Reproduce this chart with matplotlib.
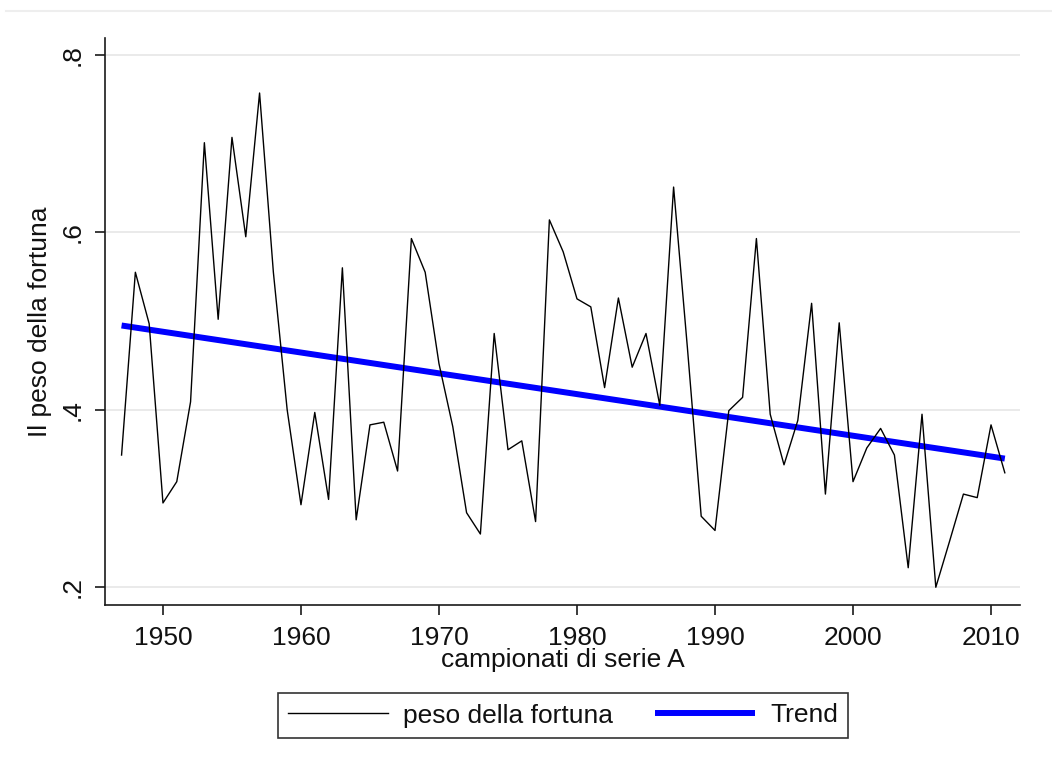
"""Peso della fortuna nei campionati di serie A, con retta di tendenza."""

from matplotlib import pyplot as plt
from matplotlib.lines import Line2D
import numpy as np

plt.rcParams["font.family"] = ["Liberation Sans", "DejaVu Sans"]

# values
years = np.arange(1947, 2012)
fortuna = [
    0.349, 0.555, 0.497, 0.295, 0.319, 0.409, 0.701, 0.502, 0.707, 0.595,  # 1947-1956
    0.757, 0.555, 0.400, 0.293, 0.397, 0.299, 0.560, 0.276, 0.383, 0.386,  # 1957-1966
    0.331, 0.593, 0.555, 0.452, 0.381, 0.284, 0.260, 0.486, 0.355, 0.365,  # 1967-1976
    0.274, 0.614, 0.578, 0.525, 0.516, 0.425, 0.526, 0.448, 0.486, 0.405,  # 1977-1986
    0.651, 0.470, 0.280, 0.264, 0.399, 0.414, 0.593, 0.395, 0.338, 0.388,  # 1987-1996
    0.520, 0.305, 0.498, 0.319, 0.357, 0.379, 0.349, 0.222, 0.395, 0.200,  # 1997-2006
    0.252, 0.305, 0.301, 0.383, 0.329,                                      # 2007-2011
]
trend_years = [1947, 2011]
trend_values = [0.495, 0.345]

x_ticks = [1950, 1960, 1970, 1980, 1990, 2000, 2010]
y_ticks = [0.2, 0.4, 0.6, 0.8]
y_ticklabels = [".2", ".4", ".6", ".8"]

FS = 19
TXT = "#111111"

fig = plt.figure(figsize=(10.52, 7.67), dpi=100)
ax = fig.add_axes([105 / 1052, 162 / 767, 915 / 1052, 567 / 767])

ax.plot(trend_years, trend_values, color="#0000ff", lw=4.3, solid_capstyle="butt",
        label="Trend", zorder=2)
ax.plot(years, fortuna, color="black", lw=1.0, label="peso della fortuna", zorder=3)

ax.set_xlim(1945.8, 2012.1)
ax.set_ylim(0.18, 0.819)
ax.set_xticks(x_ticks)
ax.set_xticklabels([str(t) for t in x_ticks])
ax.set_yticks(y_ticks)
ax.set_yticklabels(y_ticklabels, rotation=90, va="center")

ax.grid(axis="y", color="#e6e6e6", lw=1.2)
ax.set_axisbelow(True)
for side in ["top", "right"]:
    ax.spines[side].set_visible(False)
for side in ["left", "bottom"]:
    ax.spines[side].set_linewidth(1.2)
    ax.spines[side].set_color("#1a1a1a")

ax.tick_params(axis="both", direction="out", length=7, width=1.2, color="#1a1a1a",
               labelsize=FS, labelcolor=TXT)
ax.tick_params(axis="x", pad=8)
ax.tick_params(axis="y", pad=8)

ax.set_xlabel("campionati di serie A", fontsize=FS, color=TXT)
ax.xaxis.set_label_coords(0.5, -0.075)
ax.set_ylabel("Il peso della fortuna", fontsize=FS, color=TXT)
ax.yaxis.set_label_coords(-0.058, 0.5)

handles, labels = ax.get_legend_handles_labels()
leg = fig.legend(handles[::-1], labels[::-1], loc="center", bbox_to_anchor=(563 / 1052, 51.5 / 767),
                 ncol=2, fontsize=FS, frameon=True, fancybox=False, edgecolor="black",
                 handlelength=3.8, handletextpad=0.57, columnspacing=1.56,
                 borderpad=0.4, borderaxespad=0)
leg.get_frame().set_linewidth(1.2)
for t in leg.get_texts():
    t.set_color(TXT)

# faint border line at the top of the graph region
fig.add_artist(Line2D([6 / 1052, 1.0], [1 - 11 / 767, 1 - 11 / 767], color="#eeeeee", lw=1.5))

fig.savefig("out.png", dpi=100, facecolor="white")
